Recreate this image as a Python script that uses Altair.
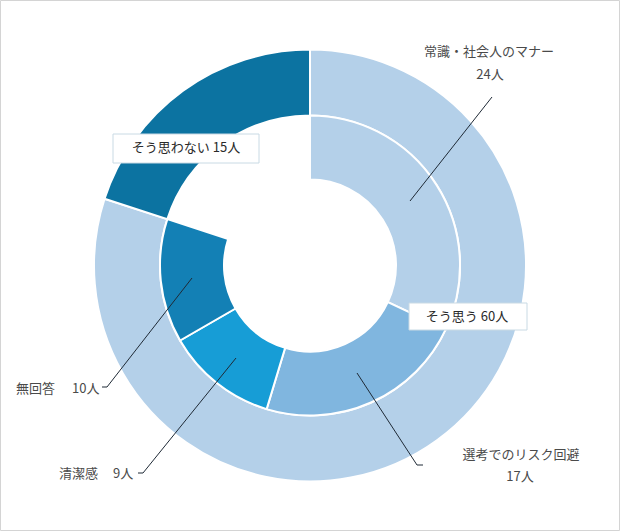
import altair as alt
import pandas as pd

# ---- data ----
outer_cats = ["そう思う", "そう思わない"]
outer_vals = [60, 15]
inner_cats = ["常識・社会人のマナー", "選考でのリスク回避", "清潔感", "無回答"]
inner_vals = [24, 17, 9, 10]
total = sum(outer_vals)

color_domain = outer_cats + inner_cats
color_range = ["#b4d0e9", "#0c73a1", "#b4d0e9", "#80b6df", "#179dd6", "#1380b5"]

outer_df = pd.DataFrame({"cat": outer_cats, "n": outer_vals, "ord": range(len(outer_cats))})
inner_df = pd.DataFrame({"cat": inner_cats, "n": inner_vals, "ord": range(len(inner_cats))})

FONT = "Noto Sans CJK JP"
W, H = 620, 531

color = alt.Color("cat:N", scale=alt.Scale(domain=color_domain, range=color_range), legend=None)
theta = alt.Theta("n:Q", stack=True, scale=alt.Scale(domain=[0, total]))

outer = alt.Chart(outer_df).mark_arc(outerRadius=216, innerRadius=150, stroke="white", strokeWidth=2).encode(
    theta=theta, color=color, order=alt.Order("ord:Q", sort="ascending")
)
inner = alt.Chart(inner_df).mark_arc(outerRadius=150, innerRadius=86, stroke="white", strokeWidth=2).encode(
    theta=theta, color=color, order=alt.Order("ord:Q", sort="ascending")
)

# ---- annotation layout (pixel positions) ----
plain_labels = pd.DataFrame({
    "t": ["常識・社会人のマナー", "24人", "選考でのリスク回避", "17人", "無回答", "10人", "清潔感", "9人"],
    "px": [489, 490, 521, 520, 16, 72, 59, 113],
    "py": [52, 75, 455, 477, 389, 389, 474, 474],
    "al": ["center", "center", "center", "center", "left", "left", "left", "left"],
})

def text_layer(df, align):
    return alt.Chart(df).mark_text(font=FONT, fontSize=13, color="#4a4a4a", align=align, baseline="middle").encode(
        x=alt.X("px:Q", scale=None), y=alt.Y("py:Q", scale=None), text="t:N"
    )

lab_c = text_layer(plain_labels[plain_labels.al == "center"], "center")
lab_l = text_layer(plain_labels[plain_labels.al == "left"], "left")

boxes = pd.DataFrame({
    "x1": [113, 409], "x2": [259, 527], "y1": [134, 303], "y2": [163, 330],
    "cx": [186, 467], "cy": [148, 317],
    "t": ["そう思わない 15人", "そう思う 60人"],
})
box_rect = alt.Chart(boxes).mark_rect(fill="white", stroke="#c9dae4", strokeWidth=1).encode(
    x=alt.X("x1:Q", scale=None), x2="x2:Q", y=alt.Y("y1:Q", scale=None), y2="y2:Q"
)
box_text = alt.Chart(boxes).mark_text(font=FONT, fontSize=13, color="#2a2a2a", align="center", baseline="middle").encode(
    x=alt.X("cx:Q", scale=None), y=alt.Y("cy:Q", scale=None), text="t:N"
)

leaders = pd.DataFrame({
    "g": ["a", "a", "b", "b", "b", "c", "c", "c", "d", "d", "d"],
    "i": [0, 1, 0, 1, 2, 0, 1, 2, 0, 1, 2],
    "px": [492, 410, 357, 417, 423, 192, 107, 102, 236, 143, 138],
    "py": [97, 201, 373, 465, 465, 278, 387, 387, 358, 473, 473],
})
lines = alt.Chart(leaders).mark_line(color="#1f2a36", strokeWidth=1).encode(
    x=alt.X("px:Q", scale=None), y=alt.Y("py:Q", scale=None), detail="g:N", order="i:Q"
)

frame = alt.Chart(pd.DataFrame({"k": [0]})).mark_rect(fill=None, stroke="#d4d4d4", strokeWidth=1).encode(
    x=alt.value(0.5), x2=alt.value(W - 0.5), y=alt.value(0.5), y2=alt.value(H - 0.5)
)

chart = alt.layer(outer, inner, lines, box_rect, box_text, lab_c, lab_l, frame).properties(
    width=W, height=H, autosize=alt.AutoSizeParams(type="none"), padding=0, background="white"
).configure_view(stroke=None)

chart.save("out.html", embed_options={"renderer": "svg", "actions": False})
